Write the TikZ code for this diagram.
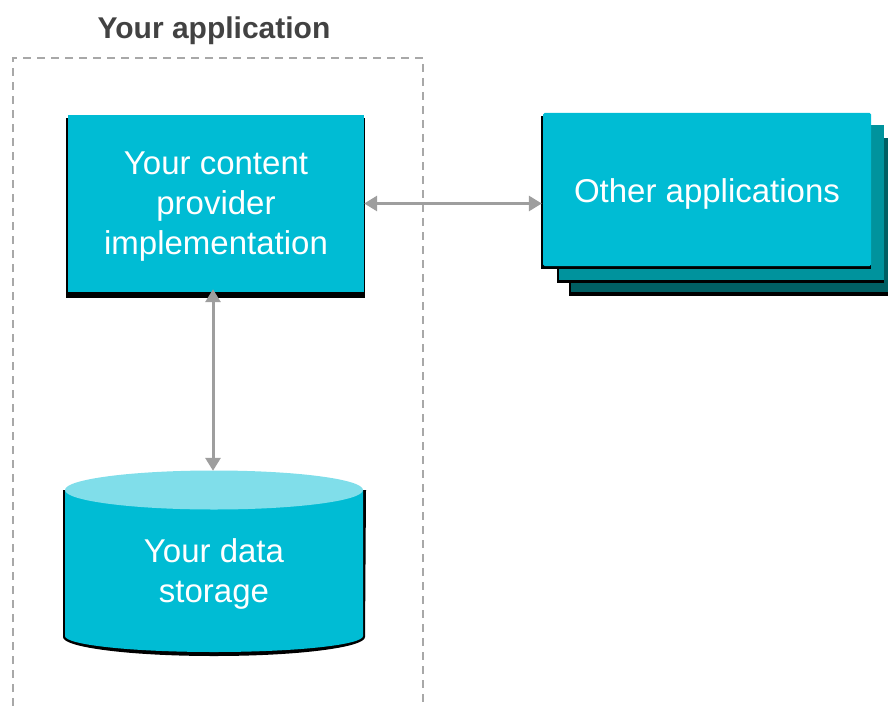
\documentclass[tikz,border=0pt]{standalone}
\usepackage{fontspec}
\setmainfont{Liberation Sans}
\usetikzlibrary{arrows.meta}
\definecolor{cyanA}{HTML}{00BCD4}
\definecolor{cyanL}{HTML}{80DEEA}
\definecolor{cyanM}{HTML}{00939D}
\definecolor{cyanD}{HTML}{005F63}
\definecolor{arrowgray}{HTML}{9E9E9E}
\definecolor{titlegray}{HTML}{424242}
\definecolor{dashgray}{HTML}{A8A8A8}
\tikzset{
  boxtext/.style={text=white, font=\fontsize{33}{40}\selectfont, align=center, inner sep=0pt},
  link/.style={draw=arrowgray, line width=3pt, {Triangle[length=13pt,width=15pt]}-{Triangle[length=13pt,width=15pt]}},
  shadowfill/.style={fill=black},
}
\begin{document}
\begin{tikzpicture}[x=1pt,y=-1pt]
\useasboundingbox (0,0) rectangle (888,706);
% title and container
\node[text=titlegray, font=\fontsize{30}{36}\selectfont\bfseries, inner sep=0pt] (title) at (214,31) {Your application};
\draw[dashgray, line width=1.5pt, dash pattern=on 8pt off 6pt] (13,720) -- (13,58) -- (423,58) -- (423,720);
% content provider box
\fill[shadowfill] (66,118) rectangle (365,298);
\fill[cyanA] (68,115) rectangle (364,292);
\node[boxtext, minimum width=296pt, minimum height=177pt] (cp) at (213,203.5) {};
\node[boxtext] (cptext) at (216,206.5) {Your content\\provider\\implementation};
% other applications stack
\fill[shadowfill] (569,141) rectangle (888,296);
\fill[cyanD] (571,138) rectangle (888,292);
\fill[shadowfill] (557,128) rectangle (884,283);
\fill[cyanM] (559,125) rectangle (884,280);
\fill[shadowfill] (541,116) rectangle (871,269);
\fill[cyanA, rounded corners=1.5pt] (543,113) rectangle (871,266);
\node[boxtext, minimum width=328pt, minimum height=153pt] (other) at (707,189.5) {};
\node[boxtext] (othertext) at (707,194) {Other applications};
% data storage cylinder
\fill[shadowfill] (63,490) -- (63,637) arc[start angle=180, end angle=360, x radius=151pt, y radius=19pt] -- (366,490) -- cycle;
\fill[cyanA] (65,490) -- (65,636) arc[start angle=180, end angle=360, x radius=149pt, y radius=16pt] -- (363,490) -- cycle;
\fill[cyanL] (214,490) ellipse[x radius=149pt, y radius=19.5pt];
\node[boxtext, minimum width=298pt, minimum height=184pt] (store) at (213,562) {};
\node[boxtext] (storetext) at (214,574) {Your data\\storage};
% connectors
\draw[link] ([xshift=3pt]cp.east) -- ([xshift=-1pt]other.west |- cp.east);
\draw[link] ([yshift=3pt]cp.south) -- ([yshift=-1pt]store.north);
\end{tikzpicture}
\end{document}
